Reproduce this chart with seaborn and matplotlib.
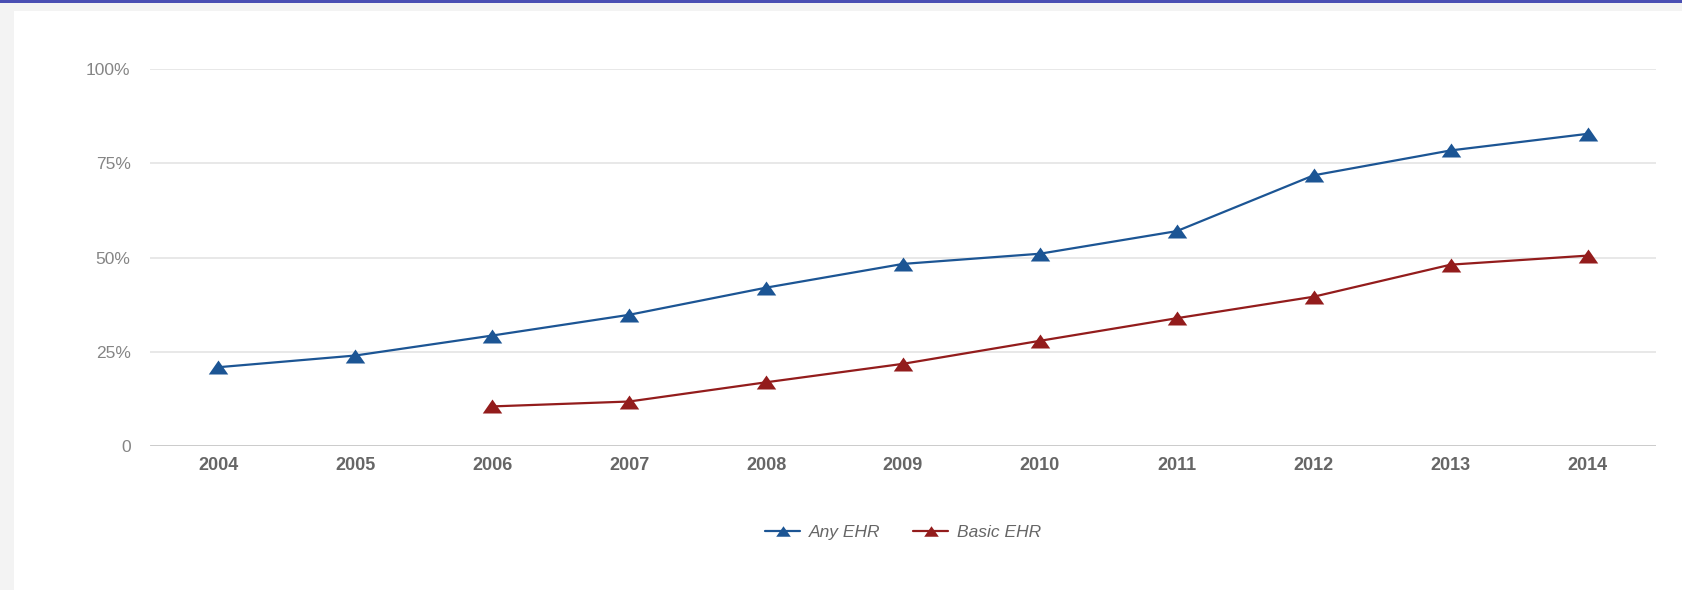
import matplotlib
matplotlib.use("Agg")
import matplotlib.pyplot as plt
from matplotlib.patches import Rectangle
from matplotlib.ticker import FixedLocator
import seaborn as sns
import pandas as pd

# Share of office-based physicians with an EHR system, by year
years = [2004, 2005, 2006, 2007, 2008, 2009, 2010, 2011, 2012, 2013, 2014]
any_ehr = [20.9, 24.0, 29.3, 34.8, 42.0, 48.3, 51.0, 57.0, 71.8, 78.4, 82.8]
basic_years = [2006, 2007, 2008, 2009, 2010, 2011, 2012, 2013, 2014]
basic_ehr = [10.5, 11.8, 16.9, 21.8, 27.9, 33.9, 39.6, 48.1, 50.5]

y_ticks = [0, 25, 50, 75, 100]
y_tick_labels = ["0", "25%", "50%", "75%", "100%"]
series_names = ["Any EHR", "Basic EHR"]

sns.set_theme(style="white")
plt.rcParams["font.family"] = ["Liberation Sans", "DejaVu Sans"]

W, H = 1683, 590
fig = plt.figure(figsize=(W / 100, H / 100), dpi=100)
fig.patch.set_facecolor("#f3f3f3")

# page card and top accent bar, on a background layer
bg = fig.add_axes([0, 0, 1, 1], zorder=-5)
bg.set_axis_off()
bg.set_xlim(0, W)
bg.set_ylim(H, 0)
bg.add_patch(Rectangle((14, 11), W - 14, H - 11, facecolor="white",
                       edgecolor="none"))
bg.add_patch(Rectangle((0, 0), W, 3, facecolor="#4a4fb3", edgecolor="none"))

ax = fig.add_axes([150 / W, (H - 446) / H, (1656 - 150) / W, (446 - 69) / H],
                  zorder=1)
ax.patch.set_alpha(0)

tri = [(-1.0, -0.72), (1.0, -0.72), (0.0, 0.72)]
blue = "#1c5594"
red = "#931c1c"

df_any = pd.DataFrame({"year": years, "pct": any_ehr})
df_basic = pd.DataFrame({"year": basic_years, "pct": basic_ehr})

sns.lineplot(data=df_any, x="year", y="pct", ax=ax, color=blue, linewidth=1.6,
             marker=tri, markersize=14, markeredgewidth=0, label=series_names[0],
             clip_on=False, zorder=3)
sns.lineplot(data=df_basic, x="year", y="pct", ax=ax, color=red, linewidth=1.6,
             marker=tri, markersize=14, markeredgewidth=0, label=series_names[1],
             clip_on=False, zorder=3)

ax.set_xlim(years[0] - 0.5, years[-1] + 0.5)
ax.set_ylim(0, 100)
ax.xaxis.set_major_locator(FixedLocator(years))
ax.set_xticklabels([str(y) for y in years], fontsize=13, fontweight="bold",
                   color="#666666")
ax.yaxis.set_major_locator(FixedLocator(y_ticks))
ax.set_yticklabels(y_tick_labels, fontsize=12.5, color="#858585")
ax.tick_params(axis="x", length=0, pad=8)
ax.tick_params(axis="y", length=0, pad=14)
ax.set_xlabel("")
ax.set_ylabel("")

for v in y_ticks[1:]:
    ax.axhline(v, color="#e8e8e8", linewidth=1.4, zorder=1)
ax.axhline(0, color="#c6c6c6", linewidth=2.0, zorder=2)

for s in ax.spines.values():
    s.set_visible(False)

leg = ax.legend(loc="center", bbox_to_anchor=(0.5, (446 - 532) / (446 - 69)),
                ncol=2, frameon=False, handlelength=2.0, handletextpad=0.5,
                columnspacing=1.9, prop={"size": 12.5, "style": "italic"},
                markerscale=0.75)
for t in leg.get_texts():
    t.set_color("#666666")

fig.savefig("out.png", dpi=100, facecolor=fig.get_facecolor())
